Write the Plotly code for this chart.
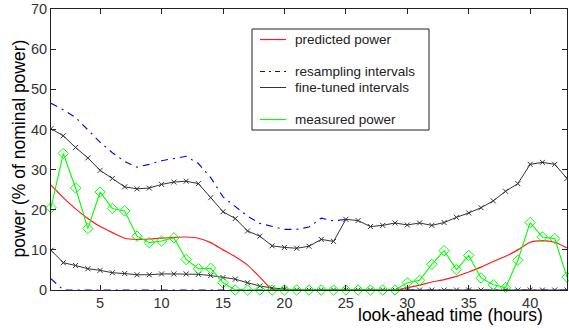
import plotly.graph_objects as go

# ---------------- data ----------------
hours = list(range(1, 44))

predicted_power = [26.1, 23.0, 20.2, 17.8, 15.8, 14.3, 12.9, 12.6, 12.7, 12.9,
                   13.1, 13.2, 12.9, 11.8, 10.0, 8.3, 6.2, 3.2, 0.2,
                   0, 0, 0, 0, 0, 0, 0, 0, 0, 0,
                   0.6, 1.2, 2.0, 2.6, 3.4, 4.5, 5.7, 7.1, 8.4, 10.0, 11.9, 12.3, 11.9, 10.5]

resampling_hours = list(range(1, 26))
resampling_upper = [46.5, 44.9, 43.0, 40.0, 36.8, 34.2, 32.0, 30.6, 31.3, 32.2,
                    32.7, 33.3, 31.5, 28.0, 23.2, 20.8, 18.4, 16.6, 15.8, 15.1,
                    15.1, 15.7, 17.9, 17.2, 17.6]
resampling_lower = [2.8] + [0] * 42

finetuned_upper = [40.2, 38.4, 35.5, 32.9, 29.8, 27.8, 25.7, 25.2, 25.4, 26.3,
                   26.9, 27.1, 26.5, 23.0, 19.5, 17.8, 14.7, 13.4, 11.0, 10.6,
                   10.4, 10.9, 12.6, 12.1, 17.6, 17.3, 15.8, 16.1, 16.7, 16.2,
                   16.7, 16.1, 16.8, 18.1, 19.2, 20.5, 22.2, 24.6, 26.5, 31.3,
                   31.8, 31.3, 27.8]
finetuned_lower = [9.9, 6.8, 6.1, 5.3, 4.9, 4.3, 4.1, 3.8, 3.8, 4.0,
                   4.0, 4.0, 3.9, 3.6, 3.1, 2.7, 1.8, 1.0, 0.5, 0.2] + [0] * 23

measured_power = [20.5, 34.0, 25.4, 15.3, 24.4, 20.3, 19.7, 13.4, 11.8, 12.2,
                  13.0, 7.6, 5.3, 5.4, 1.8] + [0] * 14 + \
                 [1.8, 2.4, 6.4, 9.8, 5.1, 8.6, 3.0, 1.3, 0.6, 7.4, 16.8, 13.2, 12.8, 3.2]

x_ticks = [5, 10, 15, 20, 25, 30, 35, 40]
y_ticks = [0, 10, 20, 30, 40, 50, 60, 70]

legend_labels = ["predicted power", "resampling intervals", "fine-tuned intervals", "measured power"]

# ---------------- styles ----------------
RED = "#ff1a1a"
BLUE = "#0000ff"
BLACK = "#333333"
GREEN = "#00ff00"
FONT = "Liberation Sans, Arial, sans-serif"

W, H = 569, 330
L, R, T, B = 51, 567, 9, 290


def pxx(xp):
    return (xp - L) / (R - L)


def pxy(yp):
    return (B - yp) / (B - T)


fig = go.Figure()

fig.add_trace(go.Scatter(x=hours, y=predicted_power, mode="lines",
                         line=dict(color=RED, width=1.2, shape="spline", smoothing=0.6),
                         showlegend=False, hoverinfo="skip"))
fig.add_trace(go.Scatter(x=resampling_hours, y=resampling_upper, mode="lines",
                         line=dict(color=BLUE, width=1.1, dash="7px,5px,2px,5px"),
                         showlegend=False, hoverinfo="skip"))
fig.add_trace(go.Scatter(x=hours, y=resampling_lower, mode="lines",
                         line=dict(color=BLUE, width=1.1, dash="7px,5px,2px,5px"),
                         showlegend=False, hoverinfo="skip"))
for series in (finetuned_upper, finetuned_lower):
    fig.add_trace(go.Scatter(x=hours, y=series, mode="lines+markers",
                             line=dict(color=BLACK, width=1),
                             marker=dict(symbol="x-thin", size=5, line=dict(color=BLACK, width=1)),
                             showlegend=False, hoverinfo="skip"))
fig.add_trace(go.Scatter(x=hours, y=measured_power, mode="lines+markers",
                         line=dict(color=GREEN, width=1.1),
                         marker=dict(symbol="diamond-open", size=8, color=GREEN, line=dict(width=1)),
                         showlegend=False, hoverinfo="skip", cliponaxis=False))

# ---------------- manual legend ----------------
box_x0, box_x1, box_y0, box_y1 = 252, 429, 29, 130
rows = [39.5, 71.5, 87.5, 119.5]
styles = [dict(color=RED, width=1.2), dict(color=BLUE, width=1.1, dash="5px,4px,2px,4px"),
          dict(color=BLACK, width=1), dict(color=GREEN, width=1.1)]
shapes = [dict(type="rect", xref="paper", yref="paper",
               x0=pxx(box_x0), x1=pxx(box_x1), y0=pxy(box_y1), y1=pxy(box_y0),
               line=dict(color="#222222", width=1), fillcolor="white", layer="above")]
annotations = []
for lab, ry, st in zip(legend_labels, rows, styles):
    shapes.append(dict(type="line", xref="paper", yref="paper",
                       x0=pxx(260), x1=pxx(286), y0=pxy(ry), y1=pxy(ry), line=st, layer="above"))
    annotations.append(dict(text=lab, xref="paper", yref="paper", x=pxx(293), y=pxy(ry),
                            xanchor="left", yanchor="middle", showarrow=False,
                            font=dict(family=FONT, size=13.5, color="#222222")))

fig.add_trace(go.Scatter(x=[pxx(273)], y=[pxy(rows[2])], xaxis="x2", yaxis="y2", mode="markers",
                         marker=dict(symbol="x-thin", size=5, line=dict(color=BLACK, width=1)),
                         showlegend=False, hoverinfo="skip"))
fig.add_trace(go.Scatter(x=[pxx(273)], y=[pxy(rows[3])], xaxis="x2", yaxis="y2", mode="markers",
                         marker=dict(symbol="diamond-open", size=8, color=GREEN, line=dict(width=1)),
                         showlegend=False, hoverinfo="skip"))

# axis titles
annotations.append(dict(text="look-ahead time (hours)", xref="paper", yref="paper",
                        x=pxx(356), y=pxy(315), xanchor="left", yanchor="middle", showarrow=False,
                        font=dict(family=FONT, size=17.5, color="black")))
annotations.append(dict(text="power (% of nominal power)", xref="paper", yref="paper",
                        x=pxx(18.5), y=pxy(149), xanchor="center", yanchor="middle", showarrow=False,
                        textangle=-90, font=dict(family=FONT, size=17.5, color="black")))

fig.update_layout(
    width=W, height=H,
    margin=dict(l=L, r=W - R, t=T, b=H - B, pad=0),
    paper_bgcolor="white", plot_bgcolor="white",
    showlegend=False,
    shapes=shapes, annotations=annotations,
    xaxis=dict(range=[1, 43], tickvals=x_ticks, ticks="inside", ticklen=5, tickcolor="#222222",
               showline=True, linecolor="#222222", linewidth=1, mirror="ticks",
               showgrid=False, zeroline=False,
               tickfont=dict(family=FONT, size=14.5, color="#333333")),
    yaxis=dict(range=[0, 70], tickvals=y_ticks, ticks="inside", ticklen=5, tickcolor="#222222",
               showline=True, linecolor="#222222", linewidth=1, mirror="ticks",
               showgrid=False, zeroline=False,
               tickfont=dict(family=FONT, size=14.5, color="#333333")),
    xaxis2=dict(range=[0, 1], overlaying="x", visible=False),
    yaxis2=dict(range=[0, 1], overlaying="y", visible=False),
)

fig.write_html("out.html", config={"displayModeBar": False},
               post_script="document.body.style.margin='0';document.body.style.overflow='hidden';")
